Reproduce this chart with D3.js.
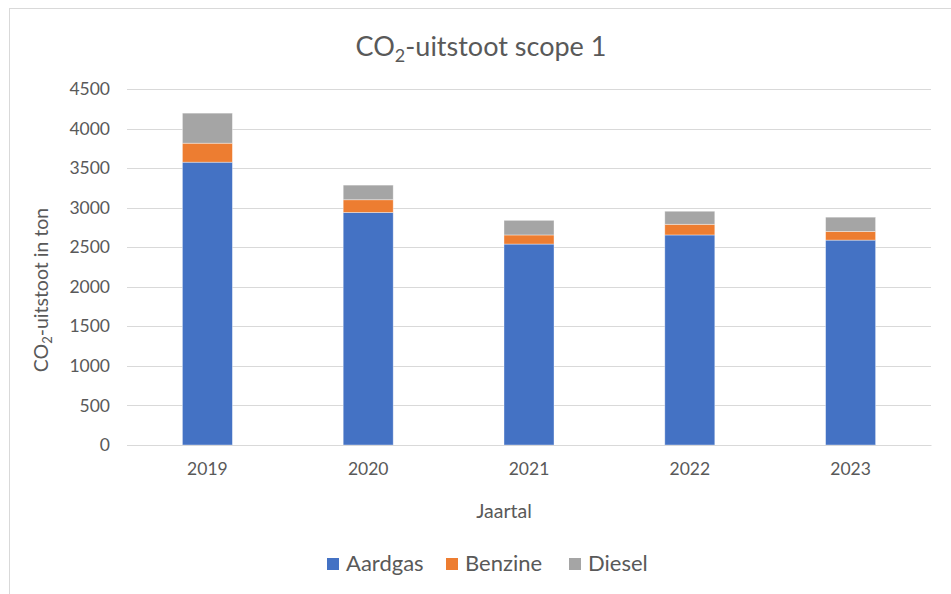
<!DOCTYPE html>
<html>
<head>
<meta charset="utf-8">
<script src="https://d3js.org/d3.v7.min.js"></script>
<style>
  body { margin: 0; background: #fff; }
  svg text { font-family: Lato, "Open Sans", sans-serif; fill: #595959; }
</style>
</head>
<body>
<div id="chart"></div>
<script>
// CO2 scope 1, in ton
var years = ["2019", "2020", "2021", "2022", "2023"];
var aardgas = [3575, 2940, 2540, 2655, 2590];
var benzine = [240, 160, 115, 135, 110];
var diesel = [380, 185, 185, 165, 180];
var seriesNames = ["Aardgas", "Benzine", "Diesel"];
var yTicks = [0, 500, 1000, 1500, 2000, 2500, 3000, 3500, 4000, 4500];

var colors = { Aardgas: "#4472C4", Benzine: "#ED7D31", Diesel: "#A5A5A5" };

var rows = years.map(function (y, i) {
  return { year: y, Aardgas: aardgas[i], Benzine: benzine[i], Diesel: diesel[i] };
});

var W = 951, H = 594;
var svg = d3.select("#chart").append("svg")
  .attr("width", W)
  .attr("height", H);

// chart frame (runs off the right/bottom edge)
svg.append("rect")
  .attr("x", 9.5).attr("y", 8.5)
  .attr("width", W + 20).attr("height", H + 20)
  .attr("fill", "none")
  .attr("stroke", "#d9d9d9");

var x = d3.scaleBand()
  .domain(years)
  .range([127, 931])
  .paddingInner(0.689)
  .paddingOuter(0.3445);

var y = d3.scaleLinear()
  .domain([0, 4500])
  .range([445, 89]);

// gridlines
svg.append("g")
  .selectAll("line")
  .data(yTicks)
  .enter().append("line")
  .attr("x1", 127).attr("x2", 931)
  .attr("y1", function (d) { return Math.round(y(d)) + 0.5; })
  .attr("y2", function (d) { return Math.round(y(d)) + 0.5; })
  .attr("stroke", "#d9d9d9")
  .attr("stroke-width", 1);

// y axis labels
var yAxis = d3.axisLeft(y).tickValues(yTicks).tickFormat(d3.format("d")).tickSize(0).tickPadding(17);
var gy = svg.append("g")
  .attr("transform", "translate(127,0)")
  .call(yAxis);
gy.select(".domain").remove();
gy.selectAll("text").style("font-size", "17.5px").attr("fill", "#595959");

// stacked bars
var stack = d3.stack().keys(seriesNames);
var layers = stack(rows);

svg.append("g")
  .selectAll("g")
  .data(layers)
  .enter().append("g")
  .attr("fill", function (d) { return colors[d.key]; })
  .selectAll("rect")
  .data(function (d) { return d; })
  .enter().append("rect")
  .attr("x", function (d) { return x(d.data.year); })
  .attr("y", function (d) { return y(d[1]); })
  .attr("width", x.bandwidth())
  .attr("height", function (d) { return y(d[0]) - y(d[1]); })
  .attr("stroke", "#ffffff")
  .attr("stroke-opacity", 0.5)
  .attr("stroke-width", 0.75);

// x axis
var xAxis = d3.axisBottom(x).tickSize(0).tickPadding(18);
var gx = svg.append("g")
  .attr("transform", "translate(0,445)")
  .call(xAxis);
gx.select(".domain").attr("stroke", "#d9d9d9");
gx.selectAll("text").style("font-size", "17.5px").attr("fill", "#595959");

// title
var title = svg.append("text")
  .attr("x", 481).attr("y", 56)
  .attr("text-anchor", "middle")
  .style("font-size", "27px");
title.append("tspan").text("CO");
title.append("tspan").attr("dy", 6).style("font-size", "18px").text("2");
title.append("tspan").attr("dy", -6).text("-uitstoot scope 1");

// axis titles
svg.append("text")
  .attr("x", 504).attr("y", 518)
  .attr("text-anchor", "middle")
  .style("font-size", "19.5px")
  .text("Jaartal");

var yt = svg.append("text")
  .attr("transform", "translate(48,290) rotate(-90)")
  .attr("text-anchor", "middle")
  .style("font-size", "19.5px");
yt.append("tspan").text("CO");
yt.append("tspan").attr("dy", 4).style("font-size", "13px").text("2");
yt.append("tspan").attr("dy", -4).text("-uitstoot in ton");

// legend
var legendX = [327, 446, 569];
var lg = svg.append("g")
  .selectAll("g")
  .data(seriesNames)
  .enter().append("g")
  .attr("transform", function (d, i) { return "translate(" + legendX[i] + ",558)"; });
lg.append("rect")
  .attr("width", 12).attr("height", 12)
  .attr("fill", function (d) { return colors[d]; });
lg.append("text")
  .attr("x", 19).attr("y", 13)
  .style("font-size", "22px")
  .text(function (d) { return d; });
</script>
</body>
</html>
